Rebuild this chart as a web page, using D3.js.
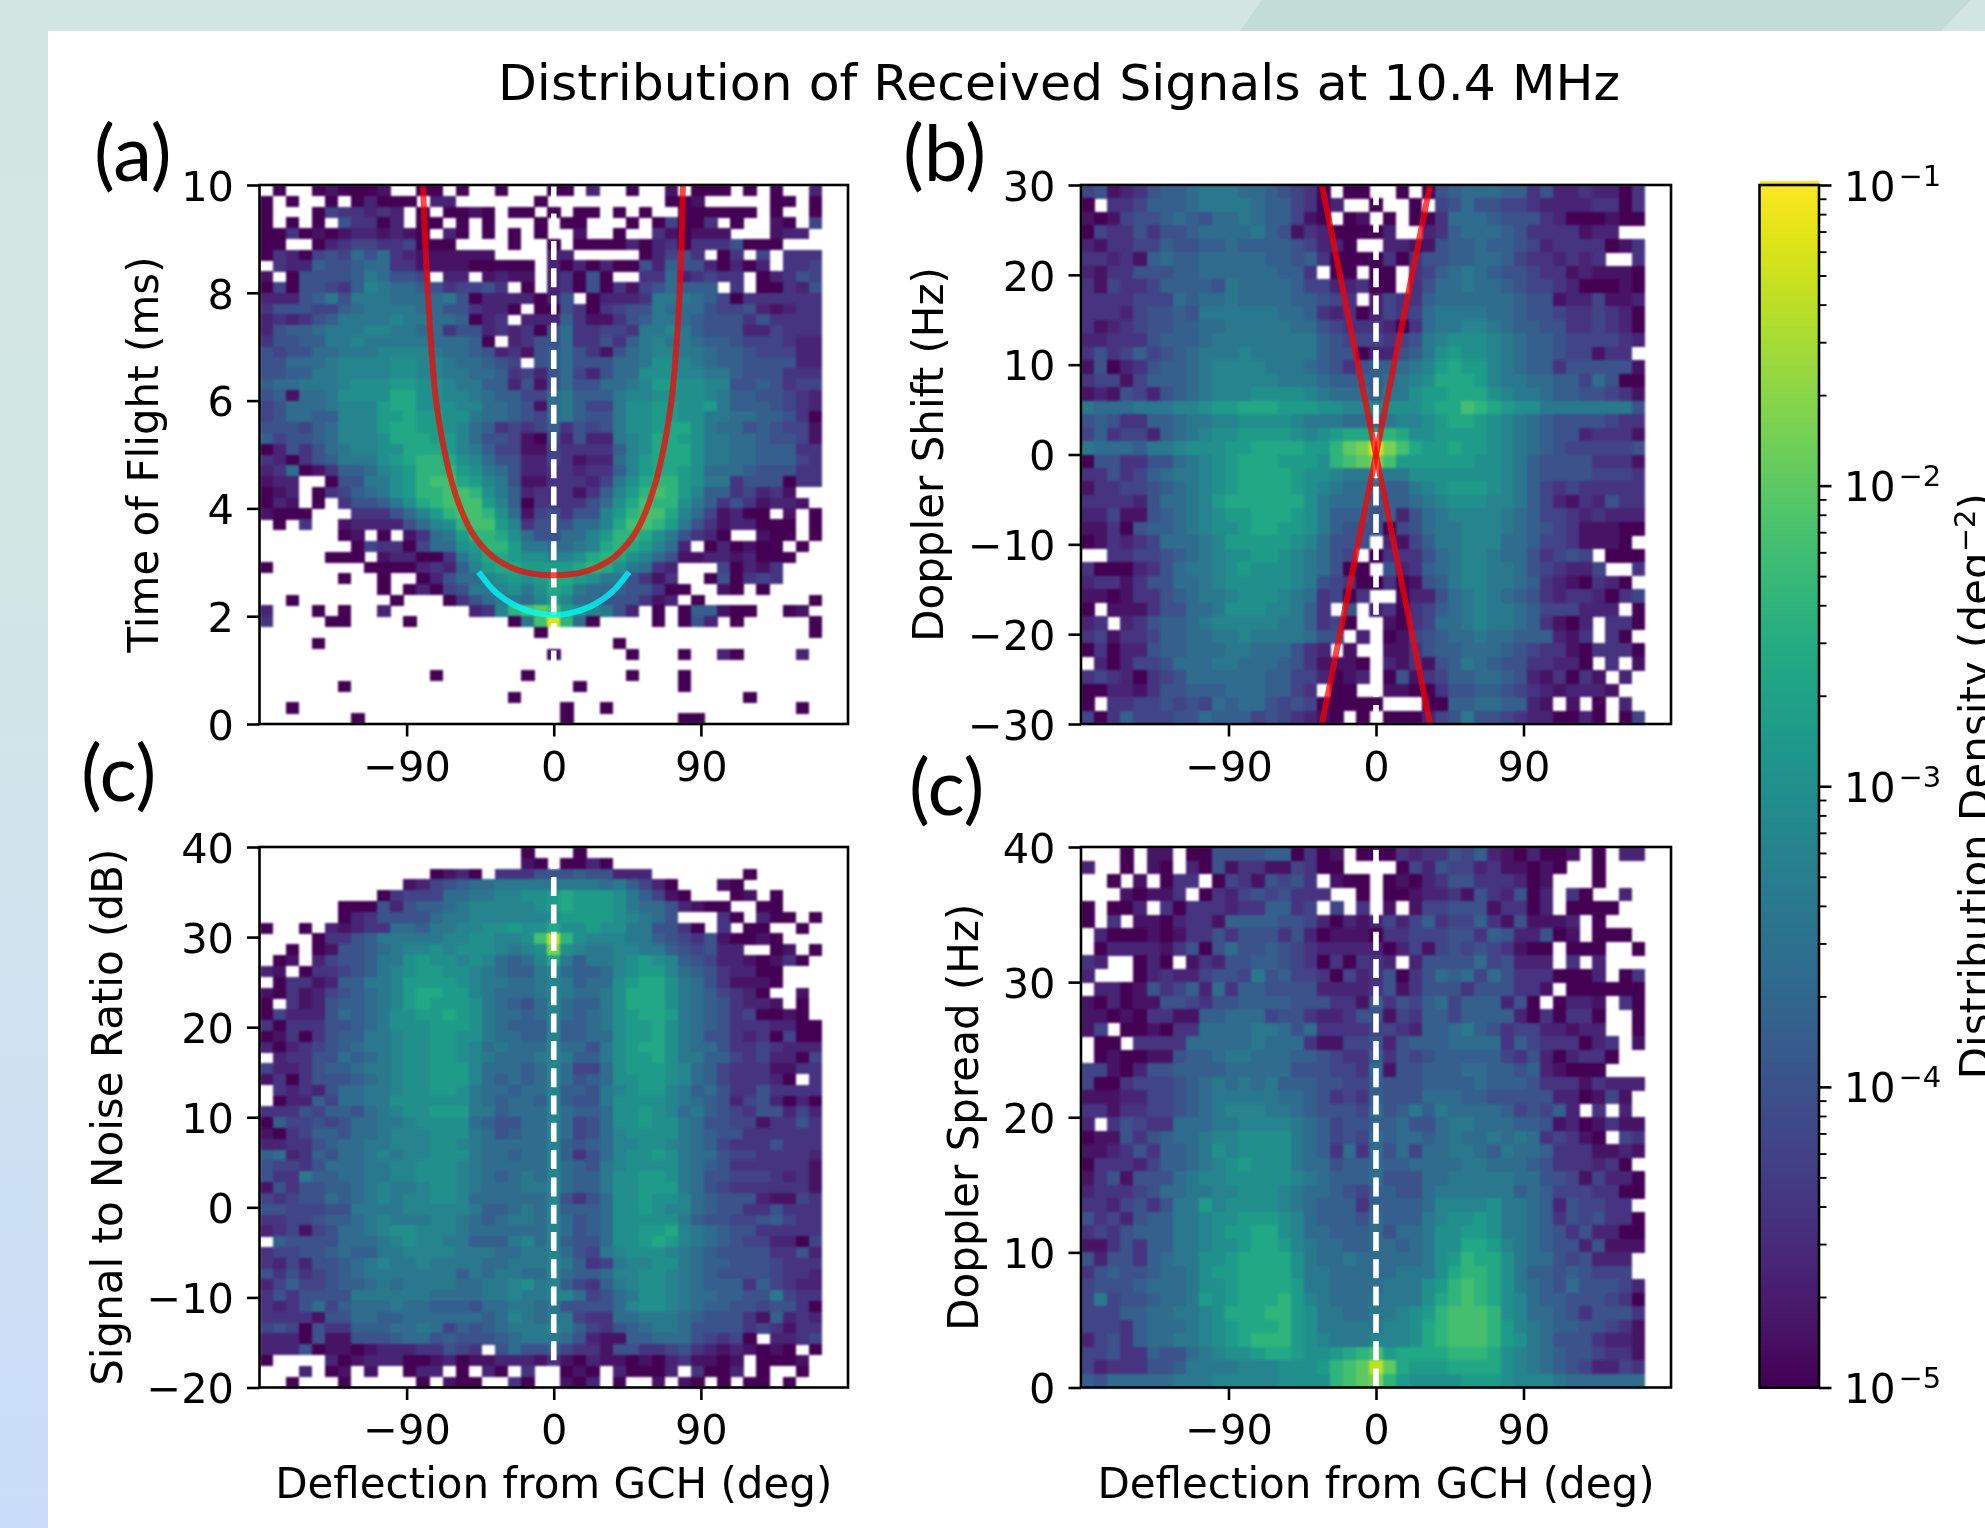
<!DOCTYPE html>
<html><head><meta charset="utf-8">
<script src="https://cdnjs.cloudflare.com/ajax/libs/d3/7.8.5/d3.min.js"></script>
<style>html,body{margin:0;padding:0;background:#fff;overflow:hidden}svg{display:block;filter:blur(.5px)}text{font-family:"DejaVu Sans";fill:#000}</style>
</head><body><svg id="c" width="1985" height="1528"></svg>
<script>
// Each symbol is one cell: '.' = empty, otherwise a level in steps of 0.2 decades above 1e-5
const titleText="Distribution of Received Signals at 10.4 MHz";
const xTicks=[-90,0,90];
const xLabel="Deflection from GCH (deg)";
const cbTicks=[1e-5,1e-4,1e-3,1e-2,1e-1];
const cbLabel="Distribution Density (deg";
const panelATof=[
".0..010001 ..00.0..0. ..00.2..0. .1.000.0.0 ..2",
"0.0..0.020 00.22..... .0........ .001.....0 0.0",
"0...043323 2.0.0010.0 0.0.00.0.0 ..000000.0 ..0",
"0.0.0.5330 2.00.0.0.. .0.00...0. 04003.0..1 0.4",
"0030101221 210.20.0.0 .0..1..0.. 310111...1 22.",
"00..023443 34000....0 ..0.000020 2303335000 ...",
"0320454757 32111111.. ..22.....0 2453.03.4. 333",
".322655677 3311110000 0.20202005 265520202. 334",
"1.05555687 554.22.121 1.23050..3 3723433.02 354",
"0405543698 776534453. 0.23050314 57666.3.00 325",
"2225685888 7777850222 2025.02223 8887640333 333",
"3555446788 8877553220 .005303455 8777544521 233",
"2323568888 988776023. 2226311356 8876555353 333",
"2566788899 8877355232 3057334438 8986555224 333",
"3556688988 88877760.2 3557335368 9887665444 322",
"5455778889 9998776523 1567531578 9988766544 422",
"5577789999 aa99877654 .567555778 aa98766555 522",
"5566889999 aa99887763 425742577a aa99886555 333",
"6778889aaa bbaa988662 5157557789 bbaa995565 344",
"561778aaaa ccaa998766 4478666899 aaaa986655 432",
"457778999b ccaaa99776 51786448aa bbaab86665 432",
"457766999b bcbbaa8776 54786558aa bbaa887766 530",
"555467999b ccbba97634 34635458aa bcca877565 441",
"645567999a cccbb97554 105252289a ccba887765 541",
"025357899a acccb98644 114333369a ccca887766 633",
"320356888a bcddca9755 224312279b ccca887766 643",
"2370136679 abdddba875 223323369b ccba777655 533",
"122..05588 abdeecb985 11333248ac ddba883555 033",
"012.034678 abddeeda86 233313 69bd edb9663423 1..",
"021.0.3556 8acdeeeb96 0333357ace dda8635312 21.",
"1000...333 579bdeeda7 1453559bde ec9741200. 1.0",
".0.3..1222 2579adeeb9 3555779cee db85312200 0.0",
"......01.0 .1378bddca 755779bddc a85320..10 0.0",
".......043 30477abddb 887789cdcb 972.020100 .0.",
".....000.1 220038accb aa99acdca9 7511221200 0..",
"0.......00 0023269bcc bbbbcdca87 32...40213 ...",
"......0..0 ..025779ab abccba8853 13..050343 ...",
".........0 .02045889a 8acb877655 300..10.0. ...",
"..0....... 0...035788 79b9775553 12.0...... ..0",
"2...0.0..2 ......239d efeba9852. 0.066100.. 01.",
"3....00... .0.......0 8ejd70.... 0.052.0... ..0",
".......... .......... .0........ .......... ..0",
"....0..... .......... .......0.. .......... ...",
".......... .......... ..1.....0. ..0..20... .2.",
".......... .......... .......... .......... ...",
".......... ...0...... 0.......0. ..0....... ...",
"......0... .......... ....0..... ..0....... ...",
".......... .........0 .......... .......0.. ...",
"..0....... .......... ...0..0... .......... .0.",
".......0.. .......... ...0...... ..00...... ..."];
const panelBDoppler=[
"4512356678 887765430. 00..0.0567 7766352232 203",
"0.33466678 8887664302 ..0..0.457 5544322223 303",
"1014556765 778766410. 01.0.00377 7655532000 100",
"0433535567 7778651320 0002..2367 7765333312 2..",
"2133446556 6766665422 0..2211566 7665423333 013",
"3323167667 7777665630 0003035566 7764332323 ..3",
"2133555667 77777663.0 0.00.34678 7655433121 110",
"3143346666 5877776442 2300.35778 7765443200 010",
"3333444767 7877776654 3.24336777 7776551224 112",
"3332455658 8888877632 3024347888 8776554334 320",
"3123455667 7888887754 3332037889 9876655334 320",
"2233356667 8888888865 44434589aa a987665444 432",
"3534645678 8898888865 5022568aba a987665441 33.",
"1502356678 9999888765 3566789bcb b987663555 551",
"3441466678 9999988876 666789accc b988776647 500",
"1215425678 999aaaa987 77688abbcc ca98876655 431",
"877788899a bbcccbbbaa 999aaabcce dcbaa88888 885",
"5653366788 99aaaa9888 777899abcc ba98765555 433",
"4634426789 aabbbba9ab cccdcaabbb ba98765523 331",
"87776889aa abbccccbbd fgjgecbbcb ba98765444 445",
"0553355789 abcccbbbad efgebbbbbb aa98655553 331",
"3353467889 abccccbaa9 88a88aaaaa aa98655554 443",
"1334456789 abccccba98 7776689abb ba98643433 333",
"3333257789 bcccccca87 77666789aa a998642132 533",
"2241156789 abbcccba86 6656257899 9987644323 222",
"1130566789 aabccbba86 5550457889 9987654311 100",
"0132347778 9bbbbba975 55.2146889 9977644311 10.",
"..33445678 9aabba9875 4.03335789 987753454. 000",
"3000235788 9abaaa9875 00.5236789 9887543224 ..3",
"2331355778 9aaaaa9854 3003015689 9887632103 20.",
"1101335678 89aaa98734 03..022578 9876532332 034",
"0.11135577 8aaa99863. 5.23034678 9887644422 2.0",
"23.2356678 9999988634 0..1034778 988763102. 330",
"3413346677 8898888755 .2.0145677 877666213. 30.",
"0302256677 788777532. 1..1135667 7765433103 330",
".202445777 8877765311 10.2131568 765533220. 3.1",
"3432034577 7777664420 12.0513466 7765213031 .2.",
"0022135566 67776643.0 0..1100355 6654321222 1..",
"0.33445454 7677545400 000...0066 776621.1.0 .2.",
"4036444557 6664543210 .0.0002458 5543220020 .04"];
const panelCSnr=[
".......... .......... 0...0..... .......... ...",
".......... .......... 10.0020... .......... ...",
".......... ...0120.33 3555655222 .......0.. ...",
".......... .124567788 8888887864 20...10... ...",
".........0 3444778899 aabcbbba86 410...01.0 ...",
"......0005 2566789999 9abcbbba87 752100..00 ...",
"......0235 5557889999 99abbbba98 75...30.20 0.0",
"0..0.21233 7768899aab aacaabaa88 5530.3.00. .0.",
"....033568 888899aa99 aeida99988 6543510010 ...",
"..0.015567 899a9aaa98 9aga988998 8654522..0 1.0",
".01.245568 8abaa9a976 79c86889ab a965422101 30.",
"21.0334568 9abbaa9876 68976679ab b976532200 ...",
".033126688 9bbbba9887 7898677abc ca87531110 ...",
"1031245678 9bccbb9877 7898778acc ca8764320. .1.",
"0.31256678 9bcbbba876 5797668acc ca87653221 .0.",
"0422257678 aabbcba877 6797678abc cb87653400 10.",
"3033355678 aaabbba876 6696678abb ca87653332 200",
"0130356688 9aabbaa877 6696677abb ca87553230 400",
"2023456788 9aabba9787 7797758abc ca87753343 222",
".233557678 9aabba9877 7898668abb ca88664342 204",
"4223566788 9aabbb9777 6797447abb ba97643331 133",
"1303555678 9aabbb9767 6797567aab ba97643332 0.3",
".323257788 9aabba8776 77966589ab b986753353 333",
".022647788 aaaaaa8767 7696558aaa a987652452 020",
"3335466578 9aabbb8867 7797667aab a978654355 242",
"0644545778 89aaaa7655 7797457aab aa87554413 353",
"1034665778 999aaa8756 779745 79aa aa87655333 333",
"2233567788 999aa98777 779656799a a987643335 333",
"6723657789 899aaa8776 77963579aa ba87754433 332",
"5443577788 99aaa98777 77976589aa aa87653333 331",
"5338667788 99aaa98767 8797668aab ba87554443 231",
"1535566789 889aa98777 8897668aab bb87543333 331",
"4345576789 899aa97777 7795357aab aa97655521 143",
"5544455888 8999998667 8796667aab a997655335 333",
"3344566789 8889987678 8797567aaa aa86554456 433",
"2341457789 aa99987777 7797567aab bc98765533 333",
".655557778 9a99886668 9796557aab cb98765442 204",
"3445567668 8999988877 88975489aa a987655553 352",
"3242556789 8898888778 8898634899 aa87665554 333",
"5353456788 8888868788 779766799a a987655554 332",
"2464456678 7888877889 a89643689a a987666364 322",
"3535555888 8887777889 889974578a a987766558 433",
"3235746777 8776665778 878555579a a987665545 530",
"3333155776 6777777679 8788433778 8876555316 232",
"4540533666 7787465678 8898643567 8875555343 133",
"2220511555 6775655567 8887521166 77754340.2 234",
"2225011012 2233543.57 5564331553 3453212101 0.0",
"0....20122 2001201122 2131021101 0231101.00 01.",
"...2.01.1. .022.0.20. 3..010.200 02.3002.0. .0.",
"..0...0... ..0.100..3 0..102.0.. 1.10.0.00. 0.."];
const panelDSpread=[
"...0.11.00 5555660301 .000323354 62102001.0 .22",
"2..0.10.20 5133114300 ....042544 2311010..0 ...",
"..0.1.033. 04315453.1 00.0102355 333201...0 ...",
"...10113.0 324545333. .0.0012231 532502.30. .2.",
"0.002.3033 32336634.4 .3.1.14455 513302.000 0..",
"0.3.110233 1666655420 2124246344 63151112.0 ...",
".200010133 5355535201 1103344455 36522501.0 00.",
".022221350 5755654322 2220241454 543100.000 ..0",
"32..020.13 2556654303 0332.25555 745222.3.2 ...",
"2...023224 5548564430 4235035767 4753330002 .03",
".220153462 7366555522 2235135553 555331.000 000",
"1020115543 5566665553 3163546746 66250.0221 .30",
"1101033116 6777455322 3551436646 6662030330 ..0",
"14.0010337 7778875733 3344326678 6534422122 ..0",
".00.333377 7778777311 4452566677 7736433302 3.1",
".010011566 7887776654 3363545666 6643520233 0..",
"4410255666 6777775554 4371556667 7665621000 ...",
"4003444567 8787866655 4465556666 7666533313 222",
"1112244567 8888877653 4365557776 6555552201 41.",
"3313344567 8999887655 5475686877 77645462.3 .2.",
"2.35433777 8899998764 5566755788 7776651201 311",
"0115356778 99aaaa8764 5476776787 7878734310 .43",
"1123536678 a9aaaa8763 7375747788 7687763331 121",
"0333246678 9abaaa8775 6676677778 8777653332 30.",
"1351555789 9aaaaa9876 6675557788 8887755414 220",
"2333457788 99aaa98776 5466557888 8886764443 300",
"332453588b 9aaaa98766 6366667999 9a88762544 33.",
"5342566889 aabbba9766 65766689aa ba88763545 330",
"3435666889 abbcca9776 6675778aab ba88765352 200",
"1135366889 aabccb9877 6677678aac cb98765525 111",
"525536788a abcccca877 8777778abd cca8775452 22.",
"356556778a bbcccca887 7777888acd dca8665654 44.",
"455567778a abccccb887 777888abde dca8765755 542",
"484556778b abcccdb987 778888acde dca9766555 430",
"4446677889 acccddba88 77889abdee eda9776535 553",
"4443677789 abcccdba88 88899acdee edb9876655 431",
"2453677889 abcdddba98 88999acdee edba875553 221",
"4453365578 9aabccbaab cdebccccdd dca9876554 331",
"4233355688 88999aaabd efifcbbbcc cca9876542 243",
"6577777888 99999aaaad efgdbaaaab bba9998777 777"];
const redCurveDeg=[-80,-77,-72,-65,-60,-55,-50,-45,-40,-35,-25,-15,0,15,25,35,40,45,50,55,60,65,72,77,79];
const redCurveMs=[10,8,6,4.8,4.25,3.85,3.55,3.34,3.18,3.05,2.89,2.8,2.76,2.8,2.89,3.05,3.18,3.34,3.55,3.85,4.25,4.8,6,8,10];
const cyanCurveDeg=[-46,-35,-23,-12,0,12,23,35,46];
const cyanCurveMs=[2.82,2.43,2.19,2.07,2.02,2.07,2.19,2.43,2.82];
const redLineDeg=[-33,33];
const redLineHz=[30,-30];

const svg=d3.select("#c");
const defs=svg.append("defs");
const lg=defs.append("linearGradient").attr("id","leftbg").attr("x1",0).attr("y1",0).attr("x2",0).attr("y2",1);
[[0,"#d2e5e1"],[.35,"#d2e6e4"],[.6,"#cfe3ee"],[1,"#c9dcf9"]].forEach(s=>lg.append("stop").attr("offset",s[0]).attr("stop-color",s[1]));
svg.append("rect").attr("width",1985).attr("height",1528).attr("fill","url(#leftbg)");
svg.append("rect").attr("width",1985).attr("height",31).attr("fill","#d2e5e1");
svg.append("polygon").attr("points","1240,31 1262,0 1971,0 1941,31").attr("fill","#c3dcd7");
svg.append("rect").attr("x",48).attr("y",31).attr("width",1937).attr("height",1497).attr("fill","#fff");

const levels="0123456789abcdefghijk";
const density=c=>Math.pow(10,-5+levels.indexOf(c)/5);
const color=d3.scaleSequentialLog(d3.interpolateViridis).domain([1e-5,1e-1]);
const fmt=d=>String(d).replace("-","\u2212");
const FS=41.5, LFS=42;

function panel(o){
  const g=svg.append("g");
  const x=d3.scaleLinear().domain([-180,180]).range([o.l,o.r]);
  const y=d3.scaleLinear().domain(o.yd).range([o.b,o.t]);
  const rows=o.rows.map(r=>r.replace(/ /g,""));
  const dy=(o.yd[1]-o.yd[0])/rows.length;
  const cells=[];
  rows.forEach((r,j)=>[...r].forEach((c,i)=>{if(c!==".")cells.push({i,j,v:density(c)});}));
  g.append("g").attr("shape-rendering","crispEdges").style("filter","blur(.8px)").selectAll("rect").data(cells).join("rect")
   .attr("x",d=>x(-180+8*d.i)).attr("width",d=>x(-180+8*(d.i+1))-x(-180+8*d.i)+.4)
   .attr("y",d=>y(o.yd[1]-dy*d.j)).attr("height",d=>y(o.yd[1]-dy*(d.j+1))-y(o.yd[1]-dy*d.j)+.4)
   .attr("fill",d=>color(d.v));
  const ax=d3.axisBottom(x).tickValues(xTicks).tickFormat(fmt).tickSize(12.5).tickSizeOuter(0).tickPadding(15);
  const ay=d3.axisLeft(y).tickValues(o.yt).tickFormat(fmt).tickSize(12.5).tickSizeOuter(0).tickPadding(13);
  const gx=g.append("g").attr("transform",`translate(0,${o.b})`).call(ax);
  const gy=g.append("g").attr("transform",`translate(${o.l},0)`).call(ay);
  [gx,gy].forEach(a=>{a.select(".domain").remove();a.selectAll("line").attr("stroke","#000").attr("stroke-width",2.6);
    a.selectAll("text").attr("font-size",FS).attr("font-family","DejaVu Sans").attr("fill","#000");});
  gy.selectAll("text").attr("transform","translate(0,2)");
  if(o.vline) g.append("line").attr("x1",x(0)).attr("x2",x(0)).attr("y1",o.b).attr("y2",o.t)
    .attr("stroke","#fff").attr("stroke-width",5.6).attr("stroke-dasharray","19 8.3");
  const line=d3.line().x(d=>x(d[0])).y(d=>y(d[1]));
  (o.curves||[]).forEach(c=>{
    g.append("path").attr("d",line.curve(c.curve||d3.curveLinear)(d3.zip(c.xs,c.ys))).attr("fill","none")
     .attr("stroke",c.color).attr("stroke-width",6).attr("stroke-opacity",c.alpha);
  });
  g.append("rect").attr("x",o.l).attr("y",o.t).attr("width",o.r-o.l).attr("height",o.b-o.t).attr("fill","none").attr("stroke","#000").attr("stroke-width",2.6);
  g.append("text").attr("transform",`translate(${o.ylx},${(o.t+o.b)/2}) rotate(-90)`).attr("text-anchor","middle").attr("font-size",LFS).text(o.yl);
  if(o.xl) g.append("text").attr("x",(o.l+o.r)/2).attr("y",1498).attr("text-anchor","middle").attr("font-size",LFS).text(o.xl);
}
const L1=259.5,R1=848,L2=1081,R2=1671,T1=185,B1=724,T2=847,B2=1387.5;
panel({l:L1,r:R1,t:T1,b:B1,yd:[0,10],yt:[0,2,4,6,8,10],rows:panelATof,yl:"Time of Flight (ms)",ylx:158,vline:true,
  curves:[{xs:redCurveDeg,ys:redCurveMs,color:"#ff0000",alpha:.72,curve:d3.curveCatmullRom},{xs:cyanCurveDeg,ys:cyanCurveMs,color:"#00ffff",alpha:.75,curve:d3.curveCatmullRom}]});
panel({l:L2,r:R2,t:T1,b:B1,yd:[-30,30],yt:[-30,-20,-10,0,10,20,30],rows:panelBDoppler,yl:"Doppler Shift (Hz)",ylx:943,vline:true,
  curves:[{xs:redLineDeg,ys:redLineHz,color:"#ff0000",alpha:.72},{xs:redLineDeg,ys:redLineHz.map(v=>-v),color:"#ff0000",alpha:.72}]});
panel({l:L1,r:R1,t:T2,b:B2,yd:[-20,40],yt:[-20,-10,0,10,20,30,40],rows:panelCSnr,yl:"Signal to Noise Ratio (dB)",ylx:122,vline:true,xl:xLabel});
panel({l:L2,r:R2,t:T2,b:B2,yd:[0,40],yt:[0,10,20,30,40],rows:panelDSpread,yl:"Doppler Spread (Hz)",ylx:978,vline:true,xl:xLabel});

svg.append("text").attr("x",1059).attr("y",100).attr("text-anchor","middle").attr("font-size",50.5).text(titleText);
const tag=[["(a)",94,181],["(b)",903,181],["(c)",81,801],["(c)",909,815]];
svg.selectAll("text.tag").data(tag).join("text").attr("class","tag").attr("x",d=>d[1]).attr("y",d=>d[2])
  .attr("font-size",78).style("font-family","Lato").text(d=>d[0]);

// colourbar
const cbL=1759.5,cbR=1819,cbT=185,cbB=1387.5;
const cy=d3.scaleLog().domain([1e-5,1e-1]).range([cbB,cbT]);
const cbg=svg.append("g");
const steps=d3.range(0,256).map(i=>Math.pow(10,-5+4*i/255));
cbg.append("g").attr("shape-rendering","crispEdges").selectAll("rect").data(steps).join("rect")
  .attr("x",cbL).attr("width",cbR-cbL).attr("y",d=>cy(d)-4.2).attr("height",5.2).attr("fill",d=>color(d));
const minor=[];cbTicks.slice(0,4).forEach(d=>{for(let k=2;k<10;k++)minor.push(d*k);});
const gm=cbg.append("g").attr("transform",`translate(${cbR},0)`).call(d3.axisRight(cy).tickValues(minor).tickFormat("").tickSize(7.5).tickSizeOuter(0));
gm.select(".domain").remove();gm.selectAll("line").attr("stroke","#000").attr("stroke-width",1.9);
const gM=cbg.append("g").attr("transform",`translate(${cbR},0)`).call(d3.axisRight(cy).tickValues(cbTicks).tickFormat("").tickSize(12.5).tickSizeOuter(0));
gM.select(".domain").remove();gM.selectAll("line").attr("stroke","#000").attr("stroke-width",2.6);
gM.selectAll(".tick text").attr("x",25).attr("dy",15).attr("font-size",40.5).attr("fill","#000").attr("font-family","DejaVu Sans")
  .text("10").append("tspan").attr("dy",-15).attr("dx",3).attr("font-size",29).text(d=>"\u2212"+Math.round(-Math.log10(d)));
cbg.append("rect").attr("x",cbL).attr("y",cbT).attr("width",cbR-cbL).attr("height",cbB-cbT).attr("fill","none").attr("stroke","#000").attr("stroke-width",2.6);
const cl=svg.append("text").attr("transform",`translate(1990,${(cbT+cbB)/2}) rotate(-90)`).attr("text-anchor","middle").attr("font-size",LFS);
cl.text(cbLabel);cl.append("tspan").attr("dy",-15).attr("font-size",29).text("\u22122");cl.append("tspan").attr("dy",15).text(")");
</script></body></html>
